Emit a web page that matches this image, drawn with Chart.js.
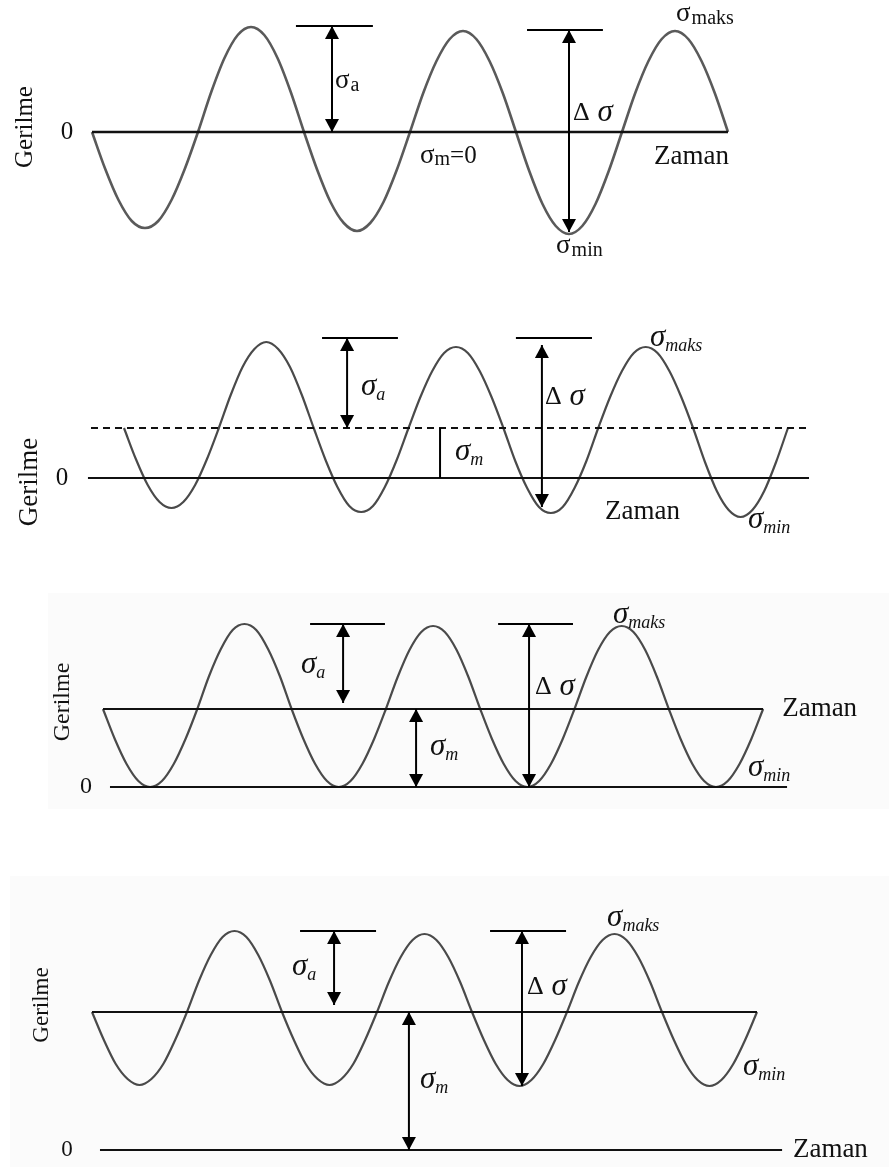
<!DOCTYPE html>
<html><head><meta charset="utf-8">
<script src="https://cdn.jsdelivr.net/npm/chart.js@4.4.1/dist/chart.umd.min.js"></script>
<style>
html,body{margin:0;padding:0;background:#fff;}
#wrap{position:relative;width:889px;height:1167px;overflow:hidden;}
canvas{position:absolute;left:0;}
.bg{position:absolute;background:#fbfbfb;}
</style></head><body>
<div id="wrap">
<div class="bg" style="left:48px;top:593px;width:841px;height:216px"></div>
<div class="bg" style="left:10px;top:876px;width:879px;height:291px"></div>
<canvas id="c1" width="889" height="275" style="top:0px"></canvas>
<canvas id="c2" width="889" height="290" style="top:275px"></canvas>
<canvas id="c3" width="889" height="275" style="top:565px"></canvas>
<canvas id="c4" width="889" height="327" style="top:840px"></canvas>
</div>
<script>
// ---- DATA (time in cycles, stress in arbitrary units) ----
const time1 = [0,0.0625,0.125,0.1875,0.25,0.3125,0.375,0.4375,0.5,0.5625,0.625,0.6875,0.75,0.8125,0.875,0.9375,
  1,1.0625,1.125,1.1875,1.25,1.3125,1.375,1.4375,1.5,1.5625,1.625,1.6875,1.75,1.8125,1.875,1.9375,
  2,2.0625,2.125,2.1875,2.25,2.3125,2.375,2.4375,2.5,2.5625,2.625,2.6875,2.75,2.8125,2.875,2.9375,3];
const stress1 = [0,-37,-68,-89,-96,-89,-68,-37,0,40,74,97,105,97,74,40,
  0,-38,-70,-91,-99,-91,-70,-38,0,39,71,93,101,93,71,39,
  0,-39,-72,-94,-102,-94,-72,-39,0,39,71,93,101,93,71,39,0];

const time234 = [0,0.0625,0.125,0.1875,0.25,0.3125,0.375,0.4375,0.5,0.5625,0.625,0.6875,0.75,0.8125,0.875,0.9375,
  1,1.0625,1.125,1.1875,1.25,1.3125,1.375,1.4375,1.5,1.5625,1.625,1.6875,1.75,1.8125,1.875,1.9375,
  2,2.0625,2.125,2.1875,2.25,2.3125,2.375,2.4375,2.5,2.5625,2.625,2.6875,2.75,2.8125,2.875,2.9375,
  3,3.0625,3.125,3.1875,3.25,3.3125,3.375,3.4375,3.5];
const stress2 = [50,19,-7,-24,-30,-24,-7,19,50,83,111,129,136,129,111,83,
  50,18,-9,-28,-34,-28,-9,18,50,81,107,125,131,125,107,81,
  50,17,-10,-29,-35,-29,-10,17,50,81,107,125,131,125,107,81,
  50,16,-13,-32,-39,-32,-13,16,50];
const stress3 = [78,48,23,6,0,6,23,48,78,111,138,157,163,157,138,111,
  78,48,23,6,0,6,23,48,78,110,137,155,161,155,137,110,
  78,48,23,6,0,6,23,48,78,110,137,155,161,155,137,110,
  78,48,23,6,0,6,23,48,78];
const stress4 = [138,110,86,71,65,71,86,110,138,169,195,213,219,213,195,169,
  138,110,86,71,65,71,86,110,138,168,193,210,216,210,193,168,
  138,110,86,70,64,70,86,110,138,168,193,210,216,210,193,168,
  138,110,86,70,64,70,86,110,138];

const meanStress = [0, 50, 78, 138];           // σm per panel
const zeroLineT = [[0,3],[-0.19,3.611],[0.037,3.627],[0.042,3.632]];
const meanLineT = [null,[-0.174,3.606],[0,3.5],[0,3.5]];

const xLabel = 'Zaman';
const yLabel = 'Gerilme';
const zeroTick = '0';

// ---- styles ----
const SERIF = '"Liberation Serif","Times New Roman",serif';
const upSig = {sig:'27px '+SERIF, sub:'20px '+SERIF, dy:5, gap:1};
const itSig = {sig:'italic 31px '+SERIF, sub:'italic 18px '+SERIF, dy:8, gap:0};

function sigma(sub, st){ return [{text:'σ', font:st.sig, dy:0},{text:sub, font:st.sub, dy:st.dy, dx:st.gap}]; }
function delta(){ return [{text:'Δ', font:'26px '+SERIF, dy:0},{text:' σ', font:'italic 31px '+SERIF, dy:0}]; }

// ---- annotation specs (data units) ----
const specs = [
 { // panel 1
  bars:[[0.962,1.325,106],[2.052,2.410,102]],
  arrows:[{t:1.132,s1:106,s2:0,h:true},{t:2.25,s1:102,s2:-100,h:true}],
  texts:[
   {t:1.146,s:51,parts:sigma('a',upSig)},
   {t:2.269,s:19,parts:delta()},
   {t:1.547,s:-24,parts:[{text:'σ',font:upSig.sig,dy:0},{text:'m',font:upSig.sub,dy:4},{text:'=0',font:'25px '+SERIF,dy:0}]},
   {t:2.189,s:-114,parts:sigma('min',upSig)},
   {t:2.755,s:118,parts:sigma('maks',upSig)},
   {t:2.651,s:-25,parts:[{text:xLabel,font:'27px '+SERIF,dy:0}]},
   {t:-0.118,s:0,center:true,parts:[{text:zeroTick,font:'25px '+SERIF,dy:0}]},
   {t:-0.316,s:5,rot:true,parts:[{text:yLabel,font:'25px '+SERIF,dy:0}]}
  ]},
 { // panel 2
  bars:[[1.044,1.444,140],[2.066,2.467,140]],
  arrows:[{t:1.176,s1:140,s2:50,h:true},{t:1.666,s1:50,s2:0,h:false},{t:2.203,s1:133,s2:-29,h:true}],
  texts:[
   {t:1.249,s:91,parts:sigma('a',itSig)},
   {t:1.745,s:26,parts:sigma('m',itSig)},
   {t:2.219,s:81,parts:delta()},
   {t:2.773,s:140,parts:sigma('maks',itSig)},
   {t:3.289,s:-42,parts:sigma('min',itSig)},
   {t:2.536,s:-34,parts:[{text:xLabel,font:'27px '+SERIF,dy:0}]},
   {t:-0.327,s:0,center:true,parts:[{text:zeroTick,font:'25px '+SERIF,dy:0}]},
   {t:-0.496,s:-4,rot:true,parts:[{text:yLabel,font:'27px '+SERIF,dy:0}]}
  ]},
 { // panel 3
  bars:[[1.098,1.495,163],[2.095,2.492,163]],
  arrows:[{t:1.273,s1:163,s2:84,h:true},{t:1.66,s1:78,s2:0,h:true},{t:2.259,s1:163,s2:0,h:true}],
  texts:[
   {t:1.050,s:122,parts:sigma('a',itSig)},
   {t:1.734,s:40,parts:sigma('m',itSig)},
   {t:2.291,s:100,parts:delta()},
   {t:2.704,s:172,parts:sigma('maks',itSig)},
   {t:3.420,s:19,parts:sigma('min',itSig)},
   {t:3.601,s:78,parts:[{text:xLabel,font:'27px '+SERIF,dy:0}]},
   {t:-0.090,s:0,center:true,parts:[{text:zeroTick,font:'24px '+SERIF,dy:0}]},
   {t:-0.212,s:85,rot:true,parts:[{text:yLabel,font:'24px '+SERIF,dy:0}]}
  ]},
 { // panel 4
  bars:[[1.095,1.495,219],[2.095,2.495,219]],
  arrows:[{t:1.274,s1:219,s2:145,h:true},{t:1.668,s1:138,s2:0,h:true},{t:2.263,s1:219,s2:64,h:true}],
  texts:[
   {t:1.053,s:183,parts:sigma('a',itSig)},
   {t:1.726,s:70,parts:sigma('m',itSig)},
   {t:2.289,s:163,parts:delta()},
   {t:2.711,s:232,parts:sigma('maks',itSig)},
   {t:3.426,s:83,parts:sigma('min',itSig)},
   {t:3.689,s:0,parts:[{text:xLabel,font:'27px '+SERIF,dy:0}]},
   {t:-0.132,s:0,center:true,parts:[{text:zeroTick,font:'23px '+SERIF,dy:0}]},
   {t:-0.263,s:145,rot:true,parts:[{text:yLabel,font:'23px '+SERIF,dy:0}]}
  ]}
];

// ---- layout: canvas top, height, px of zero stress, px of t=0, px per cycle ----
const layout = [
 {id:'c1', top:0,   h:275, zeroPx:132,  x0:92,  ppc:212},
 {id:'c2', top:275, h:290, zeroPx:478,  x0:124, ppc:189.7},
 {id:'c3', top:565, h:275, zeroPx:787,  x0:103, ppc:188.6},
 {id:'c4', top:840, h:327, zeroPx:1150, x0:92,  ppc:190}
];

function arrowHead(ctx, x, y, dir){ // dir: -1 tip points up, 1 tip points down
  ctx.beginPath();
  ctx.moveTo(x, y);
  ctx.lineTo(x-7, y-dir*13);
  ctx.lineTo(x+7, y-dir*13);
  ctx.closePath();
  ctx.fill();
}

function makeAnno(spec, idx){
  return {
    id:'anno'+idx,
    afterDatasetsDraw(chart){
      const ctx = chart.ctx, xs = chart.scales.x, ys = chart.scales.y;
      ctx.save();
      ctx.strokeStyle = '#000'; ctx.fillStyle = '#000'; ctx.lineWidth = 2;
      spec.bars.forEach(b=>{
        const y = ys.getPixelForValue(b[2]);
        ctx.beginPath(); ctx.moveTo(xs.getPixelForValue(b[0]), y); ctx.lineTo(xs.getPixelForValue(b[1]), y); ctx.stroke();
      });
      spec.arrows.forEach(a=>{
        const x = xs.getPixelForValue(a.t), y1 = ys.getPixelForValue(a.s1), y2 = ys.getPixelForValue(a.s2);
        ctx.beginPath(); ctx.moveTo(x, y1); ctx.lineTo(x, y2); ctx.stroke();
        if (a.h){ arrowHead(ctx, x, y1, -1); arrowHead(ctx, x, y2, 1); }
      });
      ctx.textBaseline = 'middle';
      ctx.fillStyle = '#111';
      spec.texts.forEach(tx=>{
        const x = xs.getPixelForValue(tx.t), y = ys.getPixelForValue(tx.s);
        if (tx.rot){
          ctx.save(); ctx.translate(x, y); ctx.rotate(-Math.PI/2);
          ctx.textAlign = 'center'; ctx.font = tx.parts[0].font;
          ctx.fillText(tx.parts[0].text, 0, 0); ctx.restore();
          return;
        }
        if (tx.center){
          ctx.textAlign = 'center'; ctx.font = tx.parts[0].font;
          ctx.fillText(tx.parts[0].text, x, y); return;
        }
        ctx.textAlign = 'left';
        let cx = x;
        tx.parts.forEach(p=>{
          ctx.font = p.font;
          cx += (p.dx||0);
          ctx.fillText(p.text, cx, y + p.dy);
          cx += ctx.measureText(p.text).width;
        });
      });
      ctx.restore();
    }
  };
}

const curves = [
  time1.map((t,i)=>({x:t, y:stress1[i]})),
  time234.map((t,i)=>({x:t, y:stress2[i]})),
  time234.map((t,i)=>({x:t, y:stress3[i]})),
  time234.map((t,i)=>({x:t, y:stress4[i]}))
];

layout.forEach((L, i)=>{
  const yMax = L.zeroPx - L.top, yMin = yMax - L.h;
  const xMin = -L.x0 / L.ppc, xMax = (889 - L.x0) / L.ppc;
  const datasets = [];
  datasets.push({data:[{x:zeroLineT[i][0],y:0},{x:zeroLineT[i][1],y:0}], borderColor:'#111', borderWidth: i===0?2.6:2, pointRadius:0, tension:0});
  if (meanLineT[i]) datasets.push({data:[{x:meanLineT[i][0],y:meanStress[i]},{x:meanLineT[i][1],y:meanStress[i]}], borderColor:'#111', borderWidth:2, borderDash: i===1?[7,5]:[], pointRadius:0, tension:0});
  datasets.push({data:curves[i], borderColor: i===0?'#5a5a5a':'#4a4a4a', borderWidth: i===0?2.6:2.2, pointRadius:0, tension:0.4, cubicInterpolationMode:'monotone'});
  new Chart(document.getElementById(L.id), {
    type:'line',
    data:{datasets},
    options:{
      responsive:false, animation:false, devicePixelRatio:1, events:[],
      layout:{padding:0},
      plugins:{legend:{display:false}, tooltip:{enabled:false}},
      scales:{
        x:{type:'linear', display:false, min:xMin, max:xMax},
        y:{type:'linear', display:false, min:yMin, max:yMax}
      }
    },
    plugins:[makeAnno(specs[i], i)]
  });
});
</script>
</body></html>
